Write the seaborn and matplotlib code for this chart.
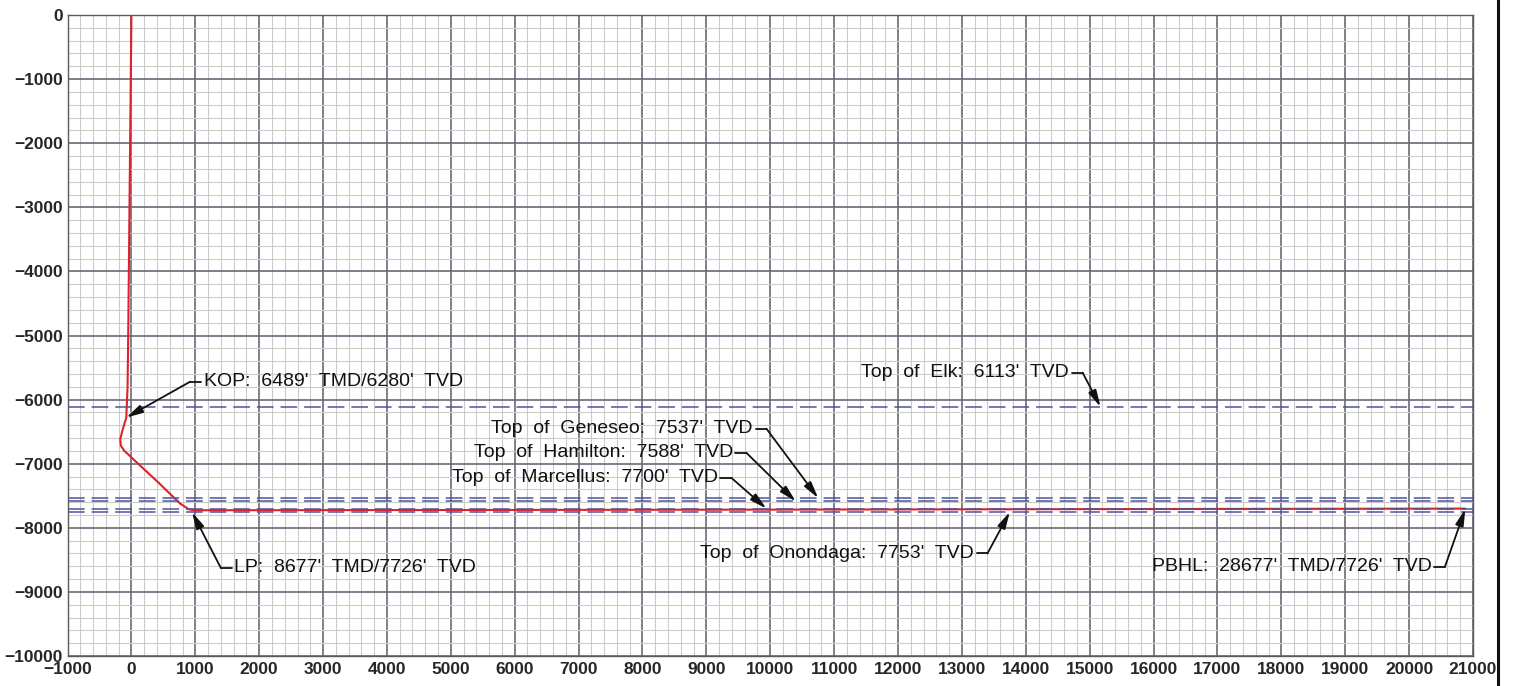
import numpy as np
import pandas as pd
import matplotlib
matplotlib.use("Agg")
import matplotlib.pyplot as plt
from matplotlib.lines import Line2D
import seaborn as sns

# well path (vertical section, ft)
vs_ft = [0, -10, -20, -30, -40, -50, -60, -80, -140, -175, -165, -110, 440, 760, 900, 1000,
         5000, 10000, 15000, 20880]
tvd_ft = [0, -1000, -2000, -3000, -4000, -5000, -5800, -6280, -6480, -6620, -6720, -6800,
          -7310, -7620, -7712, -7726, -7722, -7716, -7708, -7700]

# formation tops (TVD, ft)
tops = ["Elk", "Geneseo", "Hamilton", "Marcellus", "Onondaga"]
top_tvd = [6113, 7537, 7588, 7700, 7753]

# well points
kop_tmd, kop_tvd = 6489, 6280
lp_tmd, lp_tvd = 8677, 7726
pbhl_tmd, pbhl_tvd = 28677, 7726

x_ticks = list(range(-1000, 21001, 1000))
y_ticks = list(range(0, -10001, -1000))

sns.set_style("white")
plt.rcParams['font.family'] = ['Liberation Sans', 'DejaVu Sans']
plt.rcParams['lines.scale_dashes'] = False

fig = plt.figure(figsize=(15.14, 6.86), dpi=100)
ax = fig.add_axes([0.0446, 0.0437, 0.9283, 0.9344])

# grid paper
ax.set_xticks(x_ticks)
ax.set_yticks(y_ticks)
ax.set_xticks(np.arange(-1000, 21001, 200), minor=True)
ax.set_yticks(np.arange(-10000, 1, 200), minor=True)
ax.grid(which='minor', color='#cbcbcb', lw=0.8)
ax.grid(which='major', color='#6a6878', lw=1.2)
ax.set_axisbelow(True)
ax.tick_params(which='both', length=0)
ax.tick_params(axis='x', pad=4)
ax.tick_params(axis='y', pad=3.5)
for lab in ax.get_xticklabels() + ax.get_yticklabels():
    lab.set_fontsize(12.5)
    lab.set_fontweight('bold')
for s in ax.spines.values():
    s.set_color('#5a5a5a')
    s.set_linewidth(1.0)

# formation tops
for t in top_tvd:
    ax.axhline(-t, color='#4e539c', lw=1.1, dashes=(12, 5), zorder=3)

# well path
df = pd.DataFrame({'vs': vs_ft, 'tvd': tvd_ft})
sns.lineplot(data=df, x='vs', y='tvd', sort=False, color='#e0202a', lw=1.5, ax=ax, zorder=2)

ax.set_xlim(-1000, 21000)
ax.set_ylim(-10000, 0)
ax.set_xlabel('')
ax.set_ylabel('')

txt_kw = dict(fontsize=14, color='#111111', va='center')
arrow_kw = dict(arrowstyle='-|>,head_length=1.0,head_width=0.25', color='#111111', lw=1.3,
                shrinkA=0, shrinkB=0)
tail = 170


def leader(label, tip, elbow, side):
    ex, ey = elbow
    if side == 'right':
        ax.plot([ex - tail, ex], [ey, ey], color='#111111', lw=1.3)
        ax.text(ex - tail - 40, ey, label, ha='right', **txt_kw)
    else:
        ax.plot([ex, ex + tail], [ey, ey], color='#111111', lw=1.3)
        ax.text(ex + tail + 40, ey, label, ha='left', **txt_kw)
    ax.annotate('', xy=tip, xytext=elbow, arrowprops=arrow_kw)


leader(f"KOP:  {kop_tmd}'  TMD/{kop_tvd}'  TVD", (-80, -kop_tvd), (920, -5720), 'left')
leader(f"LP:  {lp_tmd}'  TMD/{lp_tvd}'  TVD", (950, -lp_tvd - 30), (1400, -8625), 'left')
leader(f"PBHL:  {pbhl_tmd}'  TMD/{pbhl_tvd}'  TVD", (20880, -pbhl_tvd + 20), (20560, -8610), 'right')

top_tip_x = [15170, 10750, 10400, 9940, 13750]
top_elbow = [(14890, -5580), (9940, -6453), (9625, -6828), (9390, -7219), (13400, -8400)]
for name, t, tx, el in zip(tops, top_tvd, top_tip_x, top_elbow):
    leader(f"Top  of  {name}:  {t}'  TVD", (tx, -t), el, 'right')

# frame line at the right edge of the sheet
fig.add_artist(Line2D([0.9897, 0.9897], [0, 1], transform=fig.transFigure,
                      color='#111111', lw=2.2))

fig.savefig("out.png", dpi=100)
